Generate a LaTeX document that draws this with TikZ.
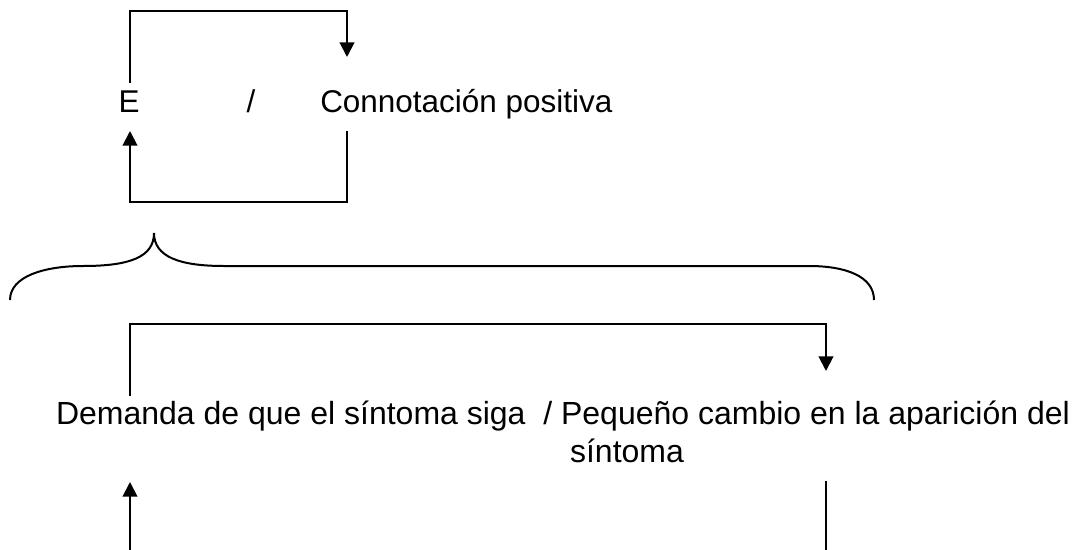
\documentclass[tikz,border=0pt]{standalone}
\usepackage{fontspec}
\setmainfont{Liberation Sans}
\usetikzlibrary{arrows.meta}
\begin{document}
\begin{tikzpicture}[x=0.75pt,y=-0.75pt,
  lbl/.style={inner sep=0pt,font=\fontsize{23.6}{28}\selectfont},
  lblb/.style={inner sep=0pt,font=\fontsize{24}{28}\selectfont},
  conn/.style={line width=1.5pt},
  arr/.style={conn,-{Triangle[length=11pt,width=11pt]}},
  bracestyle/.style={line width=1.5pt}]
\useasboundingbox (0,0) rectangle (1079,550);
% top texts
\node[lbl,anchor=base] (E) at (129,112) {E};
\node[lbl,anchor=base] (sl) at (251,112) {/};
\node[lbl,anchor=base west] (con) at (320,112) {Connotación positiva};
% top loop coordinates
\coordinate (eTop) at (130,83);
\coordinate (eBot) at (130,131);
\coordinate (cTop) at (347,57);
\coordinate (cBot) at (347,131);
\draw[arr] (eTop) |- (347,11) -- (cTop);
\draw[arr] (cBot) |- (130,202) -- (eBot);
% brace
\draw[bracestyle] (10,300) .. controls (10,276) and (45,266) .. (83,266)
  .. controls (130,266) and (154,257) .. (154,233)
  .. controls (154,257) and (180,266) .. (224,266)
  -- (809,266) .. controls (845,266) and (874,276) .. (874,300);
% bottom texts
\node[lblb,anchor=base] (dem) at (563,424) {Demanda de que el síntoma siga\ \ / Pequeño cambio en la aparición del};
\node[lblb,anchor=base] (sin) at (627,462) {síntoma};
% bottom loop
\coordinate (dTop) at (130,396);
\coordinate (dTip) at (826,371);
\coordinate (lTip) at (130,482);
\coordinate (lEnd) at (130,552);
\coordinate (rTop) at (826,481);
\coordinate (rEnd) at (826,552);
\draw[arr] (dTop) |- (826,324) -- (dTip);
\draw[arr] (lEnd) -- (lTip);
\draw[conn] (rTop) -- (rEnd);
\end{tikzpicture}
\end{document}
